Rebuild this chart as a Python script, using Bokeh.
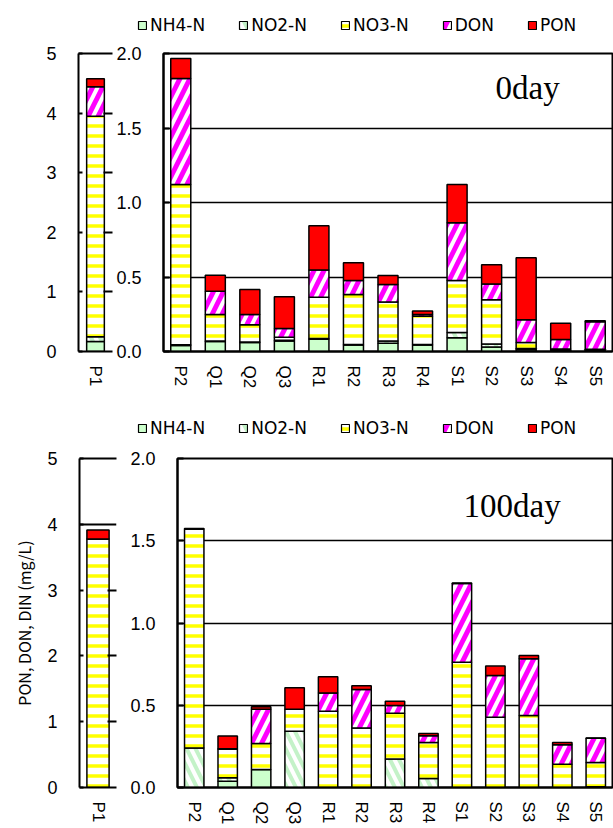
import numpy as np
from bokeh.plotting import figure
from bokeh.models import (FactorRange, Range1d, FixedTicker, NumeralTickFormatter,
                          Legend, LegendItem, Label, LinearAxis, CategoricalAxis)
from bokeh.core.properties import value
from bokeh.layouts import column, row
from bokeh.embed import file_html
from bokeh.resources import INLINE

# ---------------- data ----------------
layers = ["NH4-N", "NO2-N", "NO3-N", "DON", "PON"]
left_station = ["P1"]
stations = ["P2", "Q1", "Q2", "Q3", "R1", "R2", "R3", "R4", "S1", "S2", "S3", "S4", "S5"]

# 0 day
d0_p1_nh4 = [0.169]
d0_p1_no2 = [0.078]
d0_p1_no3 = [3.701]
d0_p1_don = [0.495]
d0_p1_pon = [0.135]

d0_nh4 = [0.040, 0.067, 0.060, 0.070, 0.082, 0.044, 0.055, 0.044, 0.093, 0.030, 0.012, 0.005, 0.005]
d0_no2 = [0.005, 0.003, 0.003, 0.005, 0.005, 0.003, 0.015, 0.003, 0.034, 0.020, 0.008, 0.004, 0.003]
d0_no3 = [1.075, 0.179, 0.117, 0.020, 0.277, 0.335, 0.262, 0.189, 0.349, 0.297, 0.040, 0.007, 0.007]
d0_don = [0.713, 0.155, 0.068, 0.060, 0.183, 0.094, 0.117, 0.013, 0.388, 0.106, 0.153, 0.065, 0.185]
d0_pon = [0.134, 0.107, 0.168, 0.212, 0.297, 0.120, 0.061, 0.022, 0.256, 0.129, 0.416, 0.108, 0.006]

# 100 day
d100_p1_nh4 = [0.0]
d100_p1_no2 = [0.0]
d100_p1_no3 = [3.778]
d100_p1_don = [0.0]
d100_p1_pon = [0.137]

d100_nh4 = [0.000, 0.038, 0.110, 0.000, 0.000, 0.000, 0.000, 0.000, 0.000, 0.000, 0.000, 0.000, 0.000]
d100_no2 = [0.240, 0.021, 0.000, 0.342, 0.000, 0.000, 0.173, 0.055, 0.000, 0.000, 0.000, 0.000, 0.005]
d100_no3 = [1.331, 0.173, 0.158, 0.134, 0.464, 0.362, 0.278, 0.219, 0.762, 0.427, 0.437, 0.142, 0.147]
d100_don = [0.000, 0.004, 0.208, 0.000, 0.110, 0.234, 0.047, 0.041, 0.478, 0.254, 0.346, 0.118, 0.147]
d100_pon = [0.004, 0.077, 0.015, 0.130, 0.099, 0.022, 0.026, 0.014, 0.003, 0.057, 0.020, 0.014, 0.002]

left_ticks = [0, 1, 2, 3, 4, 5]
right_ticks = [0.0, 0.5, 1.0, 1.5, 2.0]

# ---------------- styles ----------------
STYLE = {
    "NH4-N": dict(fill_color="#CCFFCC"),
    "NO2-N": dict(fill_color="white", hatch_pattern="left_diagonal_line",
                  hatch_color="#C4F2C8", hatch_weight=4, hatch_scale=18),
    "NO3-N": dict(fill_color="white", hatch_pattern="horizontal_line",
                  hatch_color="#FFFF00", hatch_weight=3.5, hatch_scale=10),
    "DON": dict(fill_color="white", hatch_pattern="right_diagonal_line",
                hatch_color="#FF00FF", hatch_weight=5, hatch_scale=20),
    "PON": dict(fill_color="#FF0000"),
}
TICK_FONT = "Liberation Sans"


def draw_stack(p, cats, series, width):
    base = np.zeros(len(cats))
    rends = []
    for name, vals in zip(layers, series):
        top = base + np.array(vals)
        r = p.vbar(x=cats, bottom=base.tolist(), top=top.tolist(), width=width,
                   line_color="black", line_width=1.5, **STYLE[name])
        rends.append(r)
        base = top
    return rends


def style_x_axis(xa):
    xa.major_tick_in = 0
    xa.major_tick_out = 0
    xa.axis_line_width = 2
    xa.major_label_orientation = "vertical"
    xa.major_label_standoff = 14
    xa.major_label_text_font = TICK_FONT
    xa.major_label_text_font_size = "17px"
    xa.major_label_text_color = "black"


def style_y_axis(ya, ticks, tick_in):
    ya.ticker = FixedTicker(ticks=ticks)
    ya.major_tick_in = tick_in
    ya.major_tick_out = 0
    ya.minor_tick_line_color = None
    ya.axis_line_width = 2
    ya.major_tick_line_width = 2
    ya.major_label_standoff = 22
    ya.major_label_text_font = TICK_FONT
    ya.major_label_text_font_size = "18px"
    ya.major_label_text_color = "black"


def legend_figure(H, leg_x, leg_y):
    # key-only strip: proxy glyphs sit outside the visible range,
    # only the legend keys and labels show
    lg = figure(width=613, height=H, x_range=Range1d(0, 1), y_range=Range1d(0, 1),
                output_backend="svg", toolbar_location=None,
                min_border_left=0, min_border_right=0, min_border_top=0,
                min_border_bottom=0, outline_line_color=None)
    lg.axis.visible = False
    lg.grid.visible = False
    rends = [lg.vbar(x=[-5], bottom=[-5], top=[-4], width=0.5, line_color="black",
                     line_width=1.2, **STYLE[n]) for n in layers]
    leg = Legend(items=[LegendItem(label=value(n), renderers=[r]) for n, r in zip(layers, rends)],
                 location=(leg_x, leg_y), orientation="horizontal",
                 glyph_width=10, glyph_height=10, label_standoff=3,
                 padding=0, margin=0, spacing=33,
                 border_line_color=None, background_fill_alpha=0,
                 label_text_font="DejaVu Sans", label_text_font_size="17px",
                 label_text_color="black")
    lg.add_layout(leg)
    return lg


def make_panel(left_series, right_series, day_text, H, top_b, bot_b,
               lw, l_left, rw, r_left, grid_left, right_tick_list,
               day_x, day_y, left_bar_w, ylabel=None):
    # ---- left small figure (0-5 scale)
    lf = figure(width=lw, height=H, x_range=FactorRange(*left_station),
                y_range=Range1d(0, 5), output_backend="svg", toolbar_location=None,
                min_border_left=l_left, min_border_right=1, min_border_top=top_b,
                min_border_bottom=bot_b, outline_line_color=None)
    draw_stack(lf, left_station, left_series, left_bar_w)
    ya = lf.yaxis[0]
    style_y_axis(ya, left_ticks, 4)
    if ylabel:
        ya.axis_label = ylabel
        ya.axis_label_text_font = "Noto Sans CJK JP"
        ya.axis_label_text_font_size = "16px"
        ya.axis_label_text_font_style = "normal"
        ya.axis_label_text_color = "black"
        ya.axis_label_standoff = 8
    style_x_axis(lf.xaxis[0])
    ra = LinearAxis(ticker=FixedTicker(ticks=right_tick_list), major_tick_in=9,
                    major_tick_out=0, axis_line_color=None, major_tick_line_width=2,
                    minor_tick_line_color=None, major_label_text_color=None,
                    major_label_standoff=0)
    lf.add_layout(ra, "right")
    ta = CategoricalAxis(major_tick_in=0, major_tick_out=0, axis_line_width=2,
                         major_label_text_color=None, major_label_standoff=0)
    lf.add_layout(ta, "above")
    lf.xgrid.visible = False
    if grid_left:
        lf.ygrid.ticker = FixedTicker(ticks=grid_left)
        lf.ygrid.grid_line_color = "black"
        lf.ygrid.grid_line_width = 2
    else:
        lf.ygrid.visible = False

    # ---- right main figure (0-2 scale)
    rf = figure(width=rw, height=H, x_range=FactorRange(*stations),
                y_range=Range1d(0, 2.0), output_backend="svg", toolbar_location=None,
                min_border_left=r_left, min_border_right=1, min_border_top=top_b,
                min_border_bottom=bot_b, outline_line_color="black", outline_line_width=2)
    draw_stack(rf, stations, right_series, 0.58)
    ya = rf.yaxis[0]
    style_y_axis(ya, right_ticks, 6)
    ya.formatter = NumeralTickFormatter(format="0.0")
    style_x_axis(rf.xaxis[0])
    rf.xgrid.visible = False
    rf.ygrid.ticker = FixedTicker(ticks=[0.5, 1.0, 1.5])
    rf.ygrid.grid_line_color = "black"
    rf.ygrid.grid_line_width = 1.3

    rf.add_layout(Label(x=day_x, y=day_y, x_units="screen", y_units="screen",
                        text=day_text, text_font="Liberation Serif",
                        text_font_size="33px", text_baseline="middle",
                        text_color="black"))
    return row(lf, rf, spacing=0)


leg_top = legend_figure(40, 137, 5)
top = make_panel([d0_p1_nh4, d0_p1_no2, d0_p1_no3, d0_p1_don, d0_p1_pon],
                 [d0_nh4, d0_no2, d0_no3, d0_don, d0_pon],
                 "0day", H=360, top_b=13, bot_b=49,
                 lw=113, l_left=78, rw=500, r_left=50,
                 grid_left=None, right_tick_list=[1, 2, 3, 4],
                 day_x=332, day_y=264, left_bar_w=0.52)

leg_bot = legend_figure(40, 137, 2)
bottom = make_panel([d100_p1_nh4, d100_p1_no2, d100_p1_no3, d100_p1_don, d100_p1_pon],
                    [d100_nh4, d100_no2, d100_no3, d100_don, d100_pon],
                    "100day", H=388, top_b=18, bot_b=41,
                    lw=117, l_left=79, rw=496, r_left=60,
                    grid_left=[4], right_tick_list=[1, 2, 3],
                    day_x=286, day_y=282, left_bar_w=0.6,
                    ylabel="PON, DON, DIN (mg/L)")

layout = column(leg_top, top, leg_bot, bottom, spacing=0)
open("out.html", "w").write(file_html(layout, INLINE))
